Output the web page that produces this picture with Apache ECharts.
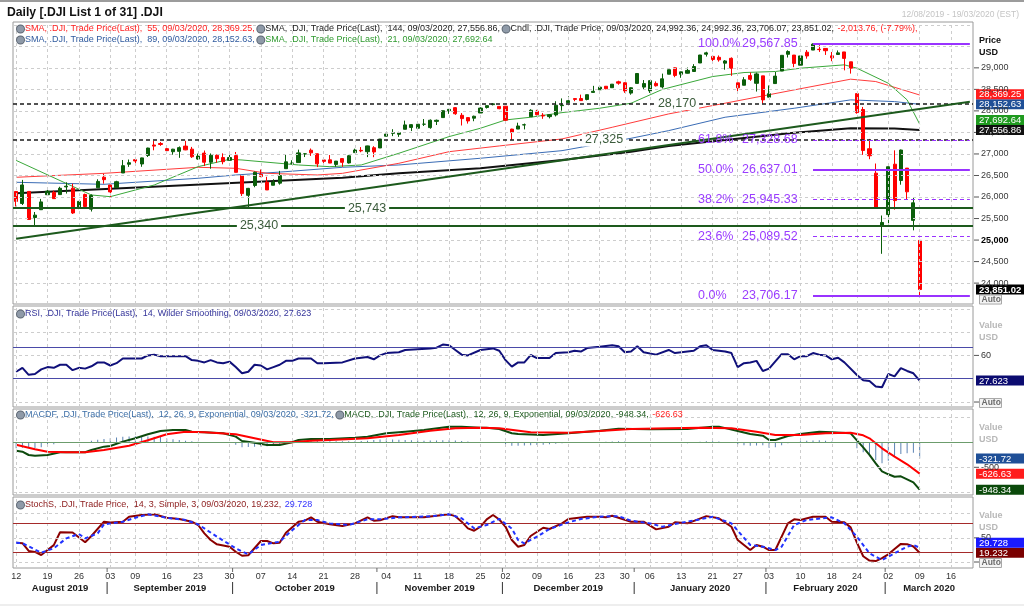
<!DOCTYPE html>
<html><head><meta charset="utf-8">
<script src="https://cdn.jsdelivr.net/npm/echarts@6/dist/echarts.min.js"></script>
<style>html,body{margin:0;padding:0;background:#fff}#c{width:1024px;height:607px}</style>
</head><body><div id="c"></div>
<script>
// ================= DATA =================
const holidays = ['2019-09-02','2019-11-28','2019-12-25','2020-01-01','2020-01-20','2020-02-17'];
const rangeStart = '2019-08-12', rangeEnd = '2020-03-19';

const open = [26129,25850,26130,25523,25705,26053,26110,26056,26235,26205,25753,26059,25718,26215,26460,26279,26217,26558,26761,26868,
26767,26965,27208,27243,27123,27052,27061,27182,27112,26881,27020,26808,26969,26917,26852,26962,26497,26039,26268,26529,
26346,26273,26322,26658,26783,26800,27000,27087,27004,26861,26864,26757,26892,26791,27031,27084,27053,27145,27139,27413,
27480,27457,27573,27616,27597,27691,27612,27757,27845,28005,28076,27898,27844,27831,27951,28079,28146,28105,28109,27577,
27578,27674,27864,27993,27900,27867,27906,28123,28192,28286,28287,28265,28430,28491,28573,28539,28676,28654,28414,28639,
28553,28465,28639,28556,28852,29000,28852,28875,28915,29113,29316,29266,29245,29109,29221,28652,28596,28821,28641,28814,
28319,28635,28926,29315,29297,29062,29364,29413,29432,29451,29279,29310,29370,29140,28402,28033,27121,26554,25320,25591,
26762,26383,26671,25457,24992.36];
const high = [26130,26397,26130,25652,25956,26207,26148,26238,26342,26309,25898,26079,26062,26412,26541,26280,26377,26860,26871,26931,
26915,27145,27306,27277,27158,27119,27175,27306,27164,27009,27080,27012,26988,27014,26998,27046,26497,26211,26592,26639,
26469,26413,26607,26991,26854,27101,27016,27127,27012,26876,26975,26837,26895,26978,27123,27160,27192,27181,27348,27516,
27575,27514,27774,27690,27696,27811,27802,27799,28005,28037,28090,27950,27846,27890,28085,28122,28175,28109,28115,27586,
27726,27706,28039,28025,27949,27925,28225,28290,28337,28291,28378,28377,28582,28582,28576,28621,28701,28664,28548,28873,
28717,28708,28685,28866,28956,29009,28908,29007,29086,29300,29374,29286,29288,29182,29243,28654,28784,28892,28889,28814,
28591,28903,29291,29408,29297,29278,29415,29568,29527,29451,29369,29404,29370,29140,28402,28092,27349,26778,25570,26706,
27084,27102,26671,25994,24992.36];
const low = [25781,25814,25471,25340,25705,26053,25961,26056,26080,25606,25718,25726,25663,26215,26310,25979,26217,26558,26700,26757,
26702,26930,27085,27188,27056,26982,26910,27087,26907,26866,26720,26657,26795,26760,26852,26571,26024,25743,26227,26460,
26163,26273,26288,26658,26760,26800,26928,26955,26696,26760,26788,26703,26701,26778,27031,27040,26927,26925,27139,27413,
27414,27397,27573,27532,27553,27650,27586,27672,27845,27932,27909,27661,27705,27760,27951,28055,28128,28040,27743,27325,
27578,27570,27864,27898,27816,27826,27871,28004,28192,28225,28230,28245,28430,28491,28502,28539,28608,28419,28376,28627,
28500,28418,28565,28522,28852,28783,28769,28868,28915,29113,29262,29155,29144,28957,28815,28441,28595,28698,28449,28170,
28319,28635,28926,29240,29016,29061,29213,29413,29370,29300,29154,29310,28942,28866,27935,26979,26878,25766,24681,25391,
25706,26286,25943,25226,23706.07];
const close = [25898,26280,25479,25579,25886,26136,25962,26203,26252,25629,25899,25778,26036,26362,26403,26118,26355,26728,26797,26836,
26909,27137,27182,27220,27077,27111,27147,27095,26935,26950,26808,26971,26891,26820,26917,26573,26079,26201,26574,26478,
26164,26346,26497,26817,26787,27025,27002,27026,26770,26828,26788,26834,26806,26958,27091,27071,27187,27046,27347,27462,
27493,27493,27675,27681,27691,27691,27784,27782,28005,28036,27934,27821,27766,27876,28066,28122,28164,28051,27783,27503,
27650,27678,28015,27910,27882,27911,28132,28135,28236,28267,28239,28377,28455,28552,28515,28621,28645,28462,28538,28869,
28635,28703,28584,28745,28957,28824,28907,28940,29030,29298,29348,29196,29186,29160,28990,28536,28723,28734,28859,28256,
28400,28808,29291,29380,29103,29277,29276,29551,29423,29398,29232,29348,29220,28992,27961,27081,26958,25767,25409,26703,
25917,27091,26121,25865,23851.02];

// moving averages: [trading-day index, value]
const sma21 = [[0,26850],[12,26047],[15,26008],[22,26279],[29,26705],[34,26876],[36,26860],[45,26744],[50,26705],[55,26744],[61,27016],[69,27403],[74,27597],[78,27790],[82,27853],[87,27960],[93,28062],[98,28178],[103,28500],[111,28798],[116,28891],[121,28915],[125,28992],[132,29070],[134,28992],[139,28643],[142,28256],[144,27692.64]];
const sma55 = [[0,26458],[14,26550],[29,26690],[35,26667],[40,26550],[48,26512],[52,26550],[61,26783],[69,27053],[77,27186],[87,27349],[95,27620],[104,27930],[113,28179],[124,28488],[133,28737],[137,28682],[144,28369.25]];
const sma89 = [[0,26342],[14,26295],[29,26435],[35,26512],[43,26589],[52,26690],[61,26744],[74,26900],[87,27077],[98,27364],[104,27542],[113,27853],[124,28062],[133,28256],[140,28216],[144,28152.63]];
const sma144 = [[0,26086],[52,26450],[61,26550],[74,26667],[87,26860],[98,27053],[104,27186],[113,27326],[124,27495],[133,27597],[140,27590],[144,27556.86]];

const rsi = [[0,39],[1,44],[2,35],[3,36],[4,42],[5,45],[6,44],[7,48],[8,48],[9,41],[10,44],[11,43],[12,46],[13,51],[14,51],[15,47],[16,50],[17,56],[18,56],[20,56],[21,60],[22,61],[23,59],[27,59],[28,54],[29,53],[30,51],[31,54],[32,51],[33,50],[34,52],[35,45],[36,37],[37,39],[38,48],[39,47],[40,42],[41,45],[42,48],[43,53],[44,53],[45,56],[47,56],[48,50],[49,50],[52,51],[54,56],[56,58],[57,55],[58,60],[59,63],[61,64],[62,67],[64,68],[66,69],[67,70],[68,74],[69,73],[70,67],[71,61],[72,60],[74,67],[76,69],[77,66],[78,54],[79,45.5],[80,51],[81,51],[82,60.5],[83,56.6],[85,56.6],[86,63],[88,64],[89,66],[90,65],[91,69.5],[93,71],[95,73],[96,71.7],[97,64],[98,65],[99,71.7],[100,64],[102,61],[104,67],[105,63],[108,66],[109,71.7],[110,73],[111,67],[113,65],[114,63],[115,45],[116,50],[117,51],[118,53],[119,40],[120,43],[122,61.6],[123,61.6],[124,55],[125,59],[126,59],[127,63],[128,61],[129,60],[130,55],[131,57],[132,51],[134,34.8],[135,28],[136,27],[137,20],[138,19],[139,36],[140,33],[141,43.7],[142,40],[143,37],[144,27.623]];

const macd = [[0,-168],[1,-187],[2,-254],[3,-267],[5,-254],[7,-200],[11,-200],[12,-154],[14,-87],[15,-73],[17,13],[19,80],[21,160],[23,226],[25,246],[27,246],[28,213],[30,200],[33,180],[35,113],[36,26],[38,-7],[40,-54],[42,-54],[44,0],[45,46],[47,66],[50,66],[54,93],[56,113],[59,180],[62,213],[65,246],[69,313],[71,313],[74,293],[75,293],[77,265],[79,180],[80,166],[84,146],[88,180],[93,233],[96,273],[101,260],[107,266],[111,313],[112,313],[115,226],[117,166],[119,133],[120,46],[121,46],[123,126],[125,166],[128,213],[130,200],[133,180],[134,40],[135,-100],[136,-250],[137,-420],[138,-580],[139,-640],[140,-690],[141,-680],[142,-740],[143,-800],[144,-948.34]];
const signal = [[0,-50],[1,-80],[3,-140],[5,-187],[8,-200],[11,-200],[14,-154],[18,-70],[21,40],[24,160],[27,213],[30,200],[35,160],[38,80],[41,0],[44,0],[47,33],[50,46],[56,80],[61,146],[66,233],[70,280],[74,293],[77,280],[82,200],[88,193],[93,226],[98,266],[104,280],[109,293],[114,280],[118,213],[121,146],[125,146],[129,180],[133,193],[135,140],[136,80],[138,-120],[140,-287],[142,-440],[144,-626.63]];
const macdHist = [-118,-107,-110,-120,-100,-67,-40,-15,-5,0,0,5,31,50,67,80,95,113,118,120,
118,114,110,106,76,60,45,33,20,10,0,2,3,5,-10,-47,-100,-95,-87,-85,
-81,-70,-54,-25,0,36,35,33,28,24,20,20,22,22,23,28,33,45,55,60,
55,50,48,42,36,31,35,38,40,43,35,28,15,5,0,-3,-5,-10,-40,-70,
-69,-65,-58,-52,-49,-40,-30,-20,-13,-8,-3,0,4,7,12,18,23,15,5,0,
-5,-12,-15,-12,-10,-12,-16,-19,-5,10,20,23,15,5,-15,-44,-60,-69,-65,-57,
-110,-100,-60,-20,0,20,30,38,43,30,15,8,0,-13,-120,-200,-280,-353,-420,-367,
-287,-233,-220,-207,-321.72];

const stochK = [[0,40],[1,39],[2,22.8],[3,21],[4,14.5],[5,24.8],[6,35],[7,61.5],[9,61],[11,40.8],[12,53.8],[14,83.5],[15,82],[17,83.5],[18,93.8],[20,97.3],[22,98.7],[24,91.7],[26,89],[28,83.5],[29,76.6],[30,59.4],[31,45.5],[32,36.6],[34,31.7],[35,21.3],[36,13],[37,14],[39,43.5],[40,43.5],[41,38.7],[42,40],[43,60.7],[45,83.5],[46,85.5],[47,92.5],[48,83.5],[50,78],[52,74.5],[54,80],[56,92.5],[57,85.5],[58,86.5],[60,95],[61,92.5],[65,92.5],[69,98.7],[70,95],[71,83.5],[72,69.7],[73,64.8],[74,73],[75,88.4],[76,97.3],[77,88],[78,73],[79,45.5],[80,31.7],[81,35.2],[82,53.8],[84,71],[85,68.3],[87,80],[88,89],[91,93.8],[93,93.8],[94,92.5],[95,95.9],[98,83.5],[100,83.5],[102,67.6],[104,73],[105,82.1],[107,80],[110,95],[112,90.5],[114,73],[115,45.5],[117,24.8],[118,35.2],[119,31.7],[120,24.8],[121,24.8],[123,80],[124,88.4],[125,87],[127,93.8],[129,93.8],[130,83.5],[132,82.1],[133,71.7],[134,40],[135,12],[136,3],[137,2],[138,8],[139,16],[140,27],[141,37.5],[142,37],[143,32],[144,19.232]];
const stochD = [[0,40],[1,39],[4,19.3],[6,28.4],[8,49],[10,58],[11,49],[13,59.4],[14,78],[17,83.5],[19,91.7],[21,98.7],[24,91.7],[27,87],[29,78],[32,52.4],[35,28.4],[37,15.9],[39,35.2],[42,42],[44,66],[46,87],[48,87],[50,80],[53,76.6],[56,88.4],[58,88.4],[61,92.5],[66,94.5],[69,98.7],[71,90.5],[73,69.7],[75,76.6],[77,89.5],[79,69],[80,45.5],[81,38.7],[83,52.4],[85,68.3],[88,82.1],[90,89],[93,93.8],[96,95],[98,85.5],[101,80],[103,73],[106,81.4],[109,88.4],[111,93.8],[114,80],[117,35.2],[119,31.7],[121,24.8],[122,31.7],[124,76.6],[126,87],[130,92.5],[132,80],[134,52.4],[136,18],[138,4],[140,18],[142,31.7],[143,35.2],[144,29.728]];

// chart annotations (values)
const levels = [28170, 27325, 25743, 25340];
const levelText = ['28,170','27,325','25,743','25,340'];
const trendline = [['2019-08-12',25028],['2020-03-19',28211]];
const fibStart = '2020-02-12';
const fibLevels = [29567.85, 27328.68, 26637.01, 25945.33, 25089.52, 23706.17];
const fibPct = ['100.0%','61.8%','50.0%','38.2%','23.6%','0.0%'];
const priceTicks = [24000,24500,25000,25500,26000,26500,27000,27500,28000,28500,29000];
const lastVals = {sma55:28369.25, sma89:28152.63, sma21:27692.64, sma144:27556.86, close:23851.02,
  rsi:27.623, hist:-321.72, signal:-626.63, macd:-948.34, d:29.728, k:19.232};

// ================= BUILD =================
function tradingDays(){
  const out=[]; let t=Date.parse(rangeStart+'T00:00:00Z'); const end=Date.parse(rangeEnd+'T00:00:00Z');
  while(t<=end){ const d=new Date(t); const wd=d.getUTCDay(); const s=d.toISOString().slice(0,10);
    if(wd!==0&&wd!==6&&holidays.indexOf(s)<0) out.push(s); t+=86400000; }
  return out;
}
const dates = tradingDays();
const dow = s => new Date(s+'T00:00:00Z').getUTCDay();
const weekStart = dates.map((d,i)=> i===0 || dow(d) < dow(dates[i-1]));
const weekDates = dates.filter((d,i)=>weekStart[i]);
const lastCat = dates[dates.length-1];
const candles = open.map((o,i)=>[o, close[i], low[i], high[i]]);

const FF = '"Liberation Sans", Arial, sans-serif';
const GRID_C = '#cdcdcd';
const L = 13, R = 51;
const grids = [
  {left:L, right:R, top:22, height:282},
  {left:L, right:R, top:306, height:101},
  {left:L, right:R, top:409, height:86},
  {left:L, right:R, top:497, height:71}
].map(g=>Object.assign(g,{show:true, borderColor:'#9a9a9a', borderWidth:1, backgroundColor:'#fff'}));
const yRanges = [[23515,30065],[-6.4,123.6],[-1054,666],[-12.4,134.6]];

const xAxes = grids.map((g,i)=>({
  type:'category', gridIndex:i, data:dates, boundaryGap:true,
  axisLine:{show:false}, axisTick:{show:false}, splitLine:{show:false},
  axisLabel: i===3 ? {show:true, interval:(idx)=>weekStart[idx], formatter:v=>v.slice(8,10),
    fontSize:9, fontFamily:FF, color:'#333', margin:4} : {show:false}
}));
const yAxes = yRanges.map((r,i)=>({
  type:'value', gridIndex:i, position:'right', min:r[0], max:r[1], scale:true,
  axisLine:{show:false}, axisTick:{show:false}, axisLabel:{show:false}, splitLine:{show:false}
}));

function gridLines(gi, yVals){
  return {type:'line', xAxisIndex:gi, yAxisIndex:gi, data:[], silent:true, z:1, animation:false,
    markLine:{silent:true, symbol:['none','none'], animation:false, label:{show:false},
      lineStyle:{color:GRID_C, type:[3,3], width:1},
      data:[...weekDates.map(d=>({xAxis:d})), ...yVals.map(v=>({yAxis:v}))]}};
}
function lineS(gi, data, color, width, z, type){
  return {type:'line', xAxisIndex:gi, yAxisIndex:gi, data, showSymbol:false, symbol:'none', silent:true,
    lineStyle:{color, width, type:type||'solid'}, z, animation:false};
}
const solidLevel = (v,color,w)=>({yAxis:v, lineStyle:{color, width:w, type:'solid'}});

const mainMarks = [
  {yAxis:levels[0], lineStyle:{color:'#1a1a1a', width:1.5, type:[4,3]}},
  {yAxis:levels[1], lineStyle:{color:'#1a1a1a', width:1.5, type:[4,3]}},
  solidLevel(levels[2],'#1d5a1d',2),
  solidLevel(levels[3],'#1d5a1d',2),
  [{coord:trendline[0], lineStyle:{color:'#1d5a1d', width:2, type:'solid'}}, {coord:trendline[1]}],
  ...fibLevels.map((v,k)=>{ const solid = (k===0||k===2||k===5);
    return [{coord:[fibStart,v], lineStyle:{color:'#9933ff', width:solid?2:1, type:solid?'solid':[4,3]}}, {coord:[lastCat,v]}]; })
];

const series = [
  gridLines(0, [24000,24500,25000,25500,26000,26500,27000,27500,28000,28500,29000,29500,30000]),
  lineS(0, sma144, '#111111', 2, 3),
  lineS(0, sma89, '#3a6cb5', 1, 3),
  lineS(0, sma55, '#ff3b3b', 1, 3),
  lineS(0, sma21, '#3aa83a', 1, 3),
  {type:'candlestick', xAxisIndex:0, yAxisIndex:0, data:candles, barWidth:3.6, silent:true, z:4, animation:false,
    itemStyle:{color:'#0a5e0a', color0:'#ff0000', borderColor:'#0a5e0a', borderColor0:'#ff0000', borderWidth:1}},
  {type:'line', xAxisIndex:0, yAxisIndex:0, data:[], silent:true, z:5, animation:false,
    markLine:{silent:true, symbol:['none','none'], animation:false, label:{show:false}, data:mainMarks}},
  gridLines(1, [0,60,90,120]),
  {type:'line', xAxisIndex:1, yAxisIndex:1, data:[], silent:true, z:2, animation:false,
    markLine:{silent:true, symbol:['none','none'], animation:false, label:{show:false},
      data:[solidLevel(30,'#4a4aa8',1), solidLevel(70,'#4a4aa8',1)]}},
  lineS(1, rsi, '#10107a', 2, 4),
  gridLines(2, [500,-500,-1000]),
  {type:'line', xAxisIndex:2, yAxisIndex:2, data:[], silent:true, z:2, animation:false,
    markLine:{silent:true, symbol:['none','none'], animation:false, label:{show:false},
      data:[solidLevel(0,'#6c9c6c',1)]}},
  {type:'bar', xAxisIndex:2, yAxisIndex:2, data:macdHist, barWidth:1, silent:true, z:3, animation:false,
    itemStyle:{color:'#5b83b3'}},
  lineS(2, macd, '#0d4a0d', 2, 4),
  lineS(2, signal, '#ff0000', 2, 4),
  gridLines(3, [0,50,100]),
  {type:'line', xAxisIndex:3, yAxisIndex:3, data:[], silent:true, z:2, animation:false,
    markLine:{silent:true, symbol:['none','none'], animation:false, label:{show:false},
      data:[solidLevel(20,'#a52a2a',1), solidLevel(80,'#a52a2a',1)]}},
  lineS(3, stochK, '#8b0000', 2, 4),
  lineS(3, stochD, '#2233ff', 2, 5, [4,3])
];

const chart = echarts.init(document.getElementById('c'), null, {renderer:'canvas', width:1024, height:607});
chart.setOption({animation:false, backgroundColor:'#fff', grid:grids, xAxis:xAxes, yAxis:yAxes, series});

// ================= TEXT / AXIS DECORATION =================
const G = [];
const py = (gi,v)=>chart.convertToPixel({yAxisIndex:gi}, v);
const pxCat = (c)=>chart.convertToPixel({xAxisIndex:3}, c);
function txt(x,y,text,o){ o=o||{};
  G.push({type:'text', x, y, z:100, silent:true, style:Object.assign({text, fill:o.color||'#333', fontSize:o.size||9,
    fontFamily:FF, fontWeight:o.weight||'normal', align:o.align||'left', verticalAlign:'middle',
    textAlign:o.align||'left', textVerticalAlign:'middle'}, o.extra||{})}); }
function rect(x,y,w,h,fill,stroke){ G.push({type:'rect', z:99, silent:true, shape:{x,y,width:w,height:h},
  style:{fill, stroke:stroke||null, lineWidth:stroke?1:0}}); }
function seg(x1,y1,x2,y2,color,w){ G.push({type:'line', z:98, silent:true, shape:{x1,y1,x2,y2}, style:{stroke:color, lineWidth:w||1}}); }

// outer frame & title
seg(0,1,1024,1,'#9c9c9c',2);
seg(0,605,1024,605,'#dddddd',1);
txt(7,13,'Daily [.DJI List 1 of 31] .DJI',{size:12.2, weight:'bold', color:'#111'});
txt(1019,15,'12/08/2019 - 19/03/2020 (EST)',{size:8.5, color:'#c4c4c4', align:'right'});

// header legends (rich text)
const icon = {width:7, height:7, borderRadius:4, backgroundColor:'#8f9aa8', borderColor:'#5d6773', borderWidth:1};
function rich(x,y,parts){
  const richStyles = {i:icon};
  let s='';
  parts.forEach((p,k)=>{ if(p==='icon'){ s+='{i| }'; } else { const key='t'+k; richStyles[key]={fill:p[0], color:p[0], fontSize:9, fontFamily:FF, padding:[0,0,0,1]}; s+='{'+key+'|'+p[1]+'}'; } });
  G.push({type:'text', x, y, z:100, silent:true, style:{text:s, rich:richStyles, fontSize:9, fontFamily:FF, verticalAlign:'middle', textVerticalAlign:'middle'}});
}
rich(17,29,['icon',['#ff2020','SMA, .DJI, Trade Price(Last),  55, 09/03/2020, 28,369.25, '],'icon',['#222','SMA, .DJI, Trade Price(Last),  144, 09/03/2020, 27,556.86, '],'icon',['#222','Cndl, .DJI, Trade Price, 09/03/2020, 24,992.36, 24,992.36, 23,706.07, 23,851.02, '],['#ff2020','-2,013.76, (-7.79%),']]);
rich(17,40,['icon',['#2f5a9e','SMA, .DJI, Trade Price(Last),  89, 09/03/2020, 28,152.63, '],'icon',['#2f9a2f','SMA, .DJI, Trade Price(Last),  21, 09/03/2020, 27,692.64']]);
rich(17,314,['icon',['#34349a','RSI, .DJI, Trade Price(Last),  14, Wilder Smoothing, 09/03/2020, 27.623']]);
rich(17,415,['icon',['#3c6ea6','MACDF, .DJI, Trade Price(Last),  12, 26, 9, Exponential, 09/03/2020, -321.72, '],'icon',['#1d5a1d','MACD, .DJI, Trade Price(Last),  12, 26, 9, Exponential, 09/03/2020, -948.34, '],['#ff2020','-626.63']]);
rich(17,505,['icon',['#8b1a1a','StochS, .DJI, Trade Price,  14, 3, Simple, 3, 09/03/2020, 19.232, '],['#3333ff','29.728']]);

// level labels on horizontal lines
const levelX = [677, 604, 367, 259];
levels.forEach((v,k)=>txt(levelX[k], py(0,v), levelText[k], {size:12.5, color:'#3b5b3b', align:'center',
  extra:{backgroundColor:'#fff', padding:[0,3]}}));
// fibonacci labels
fibLevels.forEach((v,k)=>{ const y=py(0,v);
  txt(698,y,fibPct[k],{size:12.5, color:'#9a3cff'});
  txt(742,y,v.toLocaleString('en-US',{minimumFractionDigits:2}),{size:12.5, color:'#9a3cff'}); });

// right axis: main
const AX = 974;
txt(979,41,'Price',{weight:'bold', color:'#111'});
txt(979,53,'USD',{weight:'bold', color:'#111'});
priceTicks.forEach(v=>{ const y=py(0,v); seg(AX,y,AX+5,y,'#555',1);
  txt(981,y,v.toLocaleString('en-US'),{color:v===25000?'#000':'#3a3a3a', weight:v===25000?'bold':'normal'}); });
function boxes(gi, list){
  list.forEach(b=>b.y=py(gi,b.v));
  list.sort((a,b)=>b.y-a.y);
  for(let k=1;k<list.length;k++) if(list[k].y>list[k-1].y-10) list[k].y=list[k-1].y-10;
  list.forEach(b=>{ rect(976,b.y-5,48,10,b.bg); txt(979,b.y+0.5,b.t,{color:'#fff', size:9.5, weight:b.bold?'bold':'normal'}); });
}
boxes(0,[{v:lastVals.sma55,t:'28,369.25',bg:'#ff1c1c'},{v:lastVals.sma89,t:'28,152.63',bg:'#1f4f97'},
  {v:lastVals.sma21,t:'27,692.64',bg:'#1f9a1f'},{v:lastVals.sma144,t:'27,556.86',bg:'#101010'}]);
boxes(0,[{v:lastVals.close,t:'23,851.02',bg:'#000',bold:true}]);
function autoBox(y){ rect(979.5,y-4.5,22,9,'#f3f3f3','#a8a8a8'); txt(981.5,y,'Auto',{weight:'bold', color:'#6a6a6a', size:8.5}); }
autoBox(py(0,lastVals.close)+10);

// RSI axis
txt(979,326,'Value',{weight:'bold', color:'#b8b8b8'}); txt(979,338,'USD',{weight:'bold', color:'#b8b8b8'});
seg(AX,py(1,60),AX+5,py(1,60),'#555',1); txt(981,py(1,60),'60');
seg(AX,py(1,0),AX+5,py(1,0),'#555',1);
boxes(1,[{v:lastVals.rsi,t:'27.623',bg:'#0b0b70'}]);
autoBox(py(1,0)+1);

// MACD axis
txt(979,428,'Value',{weight:'bold', color:'#b8b8b8'}); txt(979,440,'USD',{weight:'bold', color:'#b8b8b8'});
seg(AX,py(2,-500),AX+5,py(2,-500),'#555',1); txt(981,py(2,-500),'-500');
boxes(2,[{v:lastVals.hist,t:'-321.72',bg:'#1f4f97'},{v:lastVals.signal,t:'-626.63',bg:'#ff1c1c'},{v:lastVals.macd,t:'-948.34',bg:'#0b4a0b'}]);

// Stoch axis
txt(979,516,'Value',{weight:'bold', color:'#b8b8b8'}); txt(979,528,'USD',{weight:'bold', color:'#b8b8b8'});
seg(AX,py(3,50),AX+5,py(3,50),'#555',1); txt(981,py(3,50),'50');
seg(AX,py(3,0),AX+5,py(3,0),'#555',1);
boxes(3,[{v:lastVals.d,t:'29.728',bg:'#1a1aff'},{v:lastVals.k,t:'19.232',bg:'#7a0000'}]);
autoBox(py(3,0)+1);

// month labels + separators
const monthNames=['January','February','March','April','May','June','July','August','September','October','November','December'];
const step = pxCat(dates[1]) - pxCat(dates[0]);
const leftEdge = pxCat(dates[0]) - step/2, rightEdge = pxCat(lastCat) + step/2;
let mStart = 0;
for(let i=1;i<=dates.length;i++){
  if(i===dates.length || dates[i].slice(5,7)!==dates[i-1].slice(5,7)){
    const a = mStart===0 ? leftEdge : pxCat(dates[mStart]) - step/2;
    const b = i===dates.length ? rightEdge : pxCat(dates[i]) - step/2;
    const d0 = dates[mStart];
    txt((a+b)/2, 588, monthNames[+d0.slice(5,7)-1]+' '+d0.slice(0,4), {weight:'bold', size:9.5, color:'#1a1a1a', align:'center'});
    if(i<dates.length){ seg(b,582,b,594,'#333',1); seg(b,568,b,572,'#666',1); }
    mStart = i;
  }
}
chart.setOption({graphic:G});
</script></body></html>
